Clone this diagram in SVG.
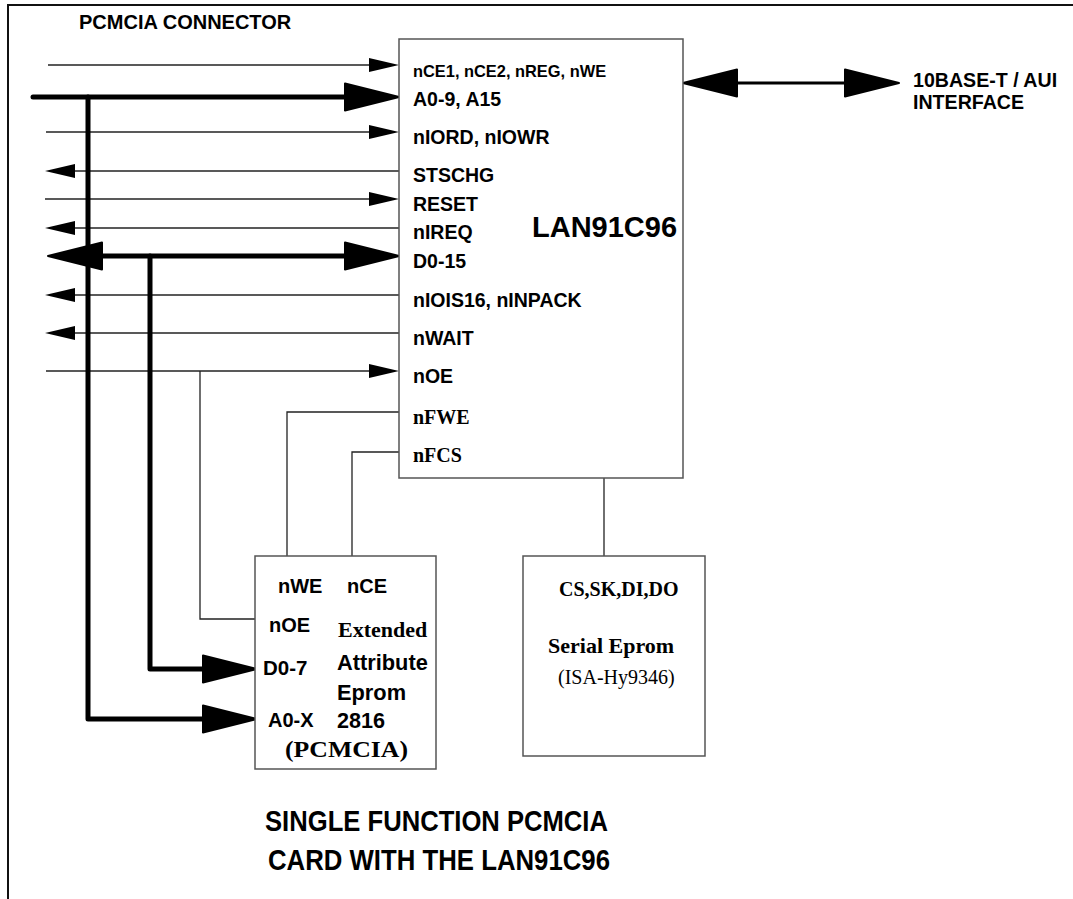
<svg xmlns="http://www.w3.org/2000/svg" width="1073" height="899" viewBox="0 0 1073 899">
<style>
.box{fill:#fff;stroke:#555;stroke-width:1.5}
.thin{fill:none;stroke:#222;stroke-width:1.3}
.bus{fill:none;stroke:#000;stroke-width:5;stroke-linecap:round;stroke-linejoin:round}
.bus3{fill:none;stroke:#000;stroke-width:3}
.frame{fill:none;stroke:#111;stroke-width:2}
.a{font-family:"Liberation Sans",Arial,sans-serif;font-weight:bold;fill:#000}
.t{font-family:"Liberation Serif","Times New Roman",serif;font-weight:bold;fill:#000}
.tr{font-family:"Liberation Serif","Times New Roman",serif;fill:#000}
.lab{font-size:19.5px}
</style>
<defs>
<marker id="ah" markerUnits="userSpaceOnUse" markerWidth="32" markerHeight="16" refX="15" refY="7" orient="auto-start-reverse" overflow="visible">
<path d="M0,0 L30,7 L0,14 Z" fill="#000"/>
</marker>
<marker id="AH" markerUnits="userSpaceOnUse" markerWidth="58" markerHeight="30" refX="25" refY="14.5" orient="auto-start-reverse" overflow="visible">
<path d="M1,1 L55,14.5 L1,28 Z" fill="#000" stroke="#000" stroke-width="2" stroke-linejoin="round"/>
</marker>
</defs>

<g id="frame">
<path class="frame" d="M8,899 L8,5 L1073,5"/>
</g>
<text class="a" x="79" y="29" font-size="20">PCMCIA CONNECTOR</text>

<g id="connectors">
<line class="thin" x1="48" y1="65" x2="384" y2="65" marker-end="url(#ah)"/>
<line class="thin" x1="46" y1="132" x2="384" y2="132" marker-end="url(#ah)"/>
<line class="thin" x1="60" y1="171" x2="399" y2="171" marker-start="url(#ah)"/>
<line class="thin" x1="45" y1="199" x2="384" y2="199" marker-end="url(#ah)"/>
<line class="thin" x1="60" y1="228" x2="399" y2="228" marker-start="url(#ah)"/>
<line class="thin" x1="60" y1="295" x2="399" y2="295" marker-start="url(#ah)"/>
<line class="thin" x1="60" y1="333" x2="399" y2="333" marker-start="url(#ah)"/>
<line class="thin" x1="46" y1="371" x2="384" y2="371" marker-end="url(#ah)"/>
<polyline class="thin" points="200,371 200,619 255,619"/>
<polyline class="thin" points="399,412 287,412 287,556"/>
<polyline class="thin" points="399,452 352,452 352,556"/>
<line class="thin" x1="604" y1="478" x2="604" y2="556"/>
<line class="bus" x1="33" y1="97" x2="369" y2="97" marker-end="url(#AH)"/>
<line class="bus" x1="78" y1="256" x2="369" y2="256" marker-start="url(#AH)" marker-end="url(#AH)"/>
<polyline class="bus" points="88,97 88,719 227,719" marker-end="url(#AH)"/>
<polyline class="bus" points="150,256 150,669 227,669" marker-end="url(#AH)"/>
<line class="bus3" x1="713" y1="83" x2="869" y2="83" marker-start="url(#AH)" marker-end="url(#AH)"/>
</g>

<g id="lan91c96">
<rect class="box" x="399" y="39" width="284" height="439"/>
<text class="a" x="413" y="77" font-size="16.4">nCE1, nCE2, nREG, nWE</text>
<text class="a lab" x="413" y="106">A0-9, A15</text>
<text class="a lab" x="413" y="144">nIORD, nIOWR</text>
<text class="a lab" x="413" y="182">STSCHG</text>
<text class="a lab" x="413" y="211">RESET</text>
<text class="a lab" x="413" y="239">nIREQ</text>
<text class="a lab" x="413" y="268">D0-15</text>
<text class="a lab" x="413" y="307">nIOIS16, nINPACK</text>
<text class="a lab" x="413" y="345">nWAIT</text>
<text class="a lab" x="413" y="383">nOE</text>
<text class="t" x="413" y="424" font-size="20">nFWE</text>
<text class="t" x="413" y="462" font-size="20">nFCS</text>
<text class="a" x="532" y="237" font-size="29">LAN91C96</text>
</g>

<g id="interface">
<text class="a" x="913" y="87" font-size="19.6">10BASE-T / AUI</text>
<text class="a" x="913" y="109" font-size="19.6">INTERFACE</text>
</g>

<g id="attribute-eprom">
<rect class="box" x="255" y="556" width="181" height="213"/>
<text class="a" x="278" y="593" font-size="20">nWE</text>
<text class="a" x="347" y="593" font-size="20">nCE</text>
<text class="a" x="269" y="632" font-size="20">nOE</text>
<text class="t" x="338" y="637" font-size="22">Extended</text>
<text class="a" x="263" y="675" font-size="20.5">D0-7</text>
<text class="a" x="337" y="670" font-size="21.8">Attribute</text>
<text class="a" x="337" y="700" font-size="21.8">Eprom</text>
<text class="a" x="268" y="727" font-size="20">A0-X</text>
<text class="a" x="337" y="728" font-size="21.6">2816</text>
<text class="t" x="285" y="757" font-size="23" textLength="123" lengthAdjust="spacingAndGlyphs">(PCMCIA)</text>
</g>

<g id="serial-eprom">
<rect class="box" x="523" y="556" width="182" height="200"/>
<text class="t" x="559" y="596" font-size="20">CS,SK,DI,DO</text>
<text class="t" x="548" y="653" font-size="22">Serial Eprom</text>
<text class="tr" x="558" y="684" font-size="20">(ISA-Hy9346)</text>
</g>

<g id="title">
<text class="a" x="265" y="831" font-size="30" textLength="343" lengthAdjust="spacingAndGlyphs">SINGLE FUNCTION PCMCIA</text>
<text class="a" x="268" y="870" font-size="30" textLength="342" lengthAdjust="spacingAndGlyphs">CARD WITH THE LAN91C96</text>
</g>
</svg>
